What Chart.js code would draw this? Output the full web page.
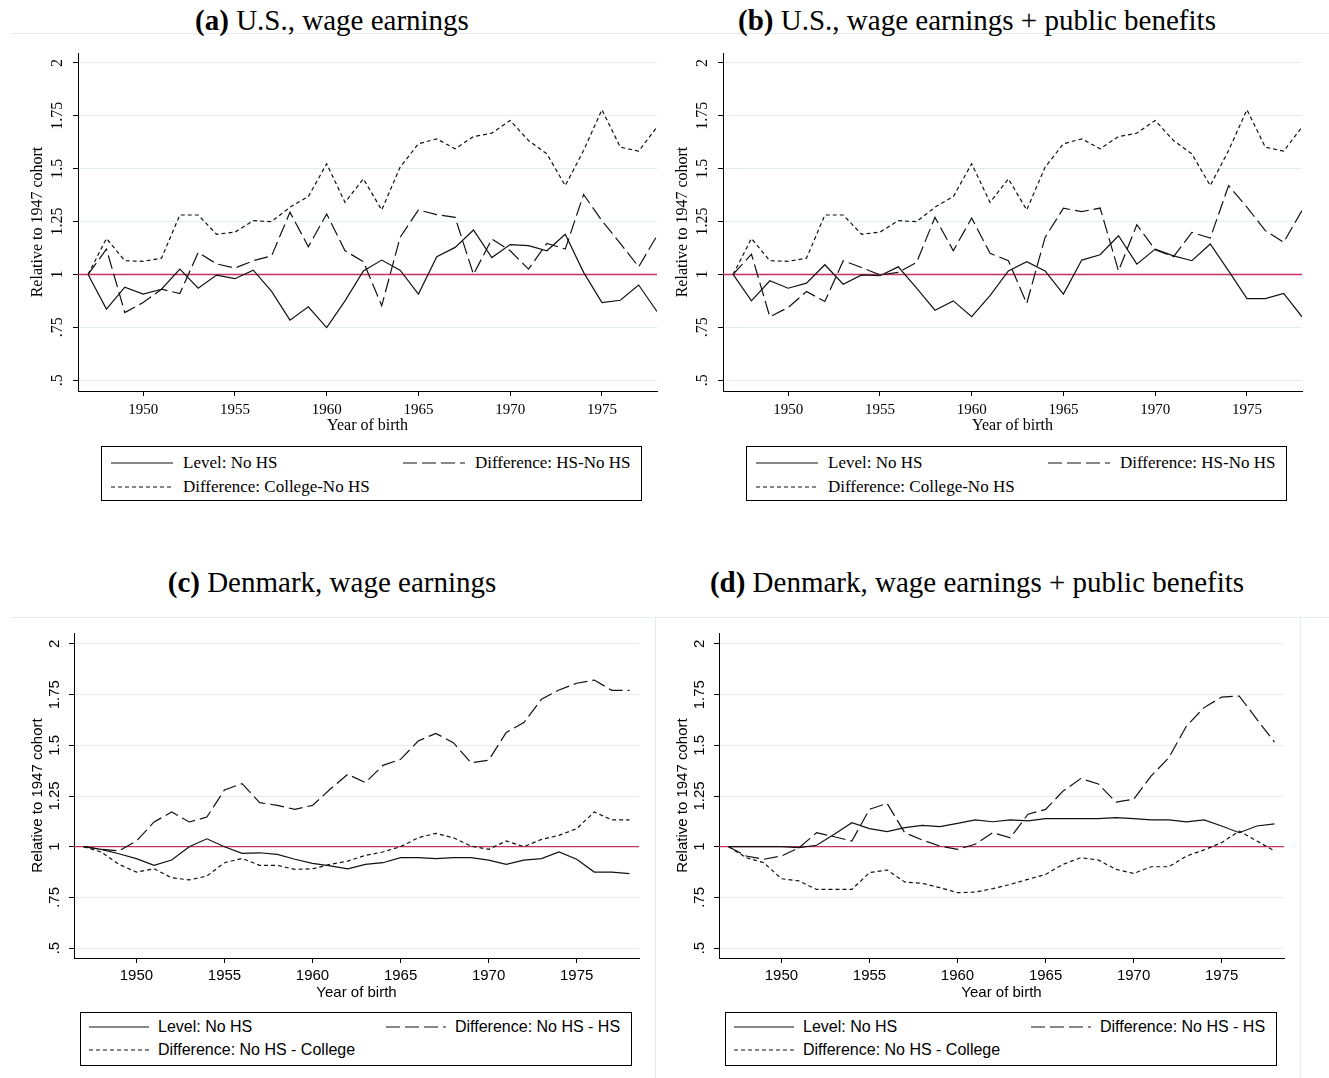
<!DOCTYPE html>
<html>
<head>
<meta charset="utf-8">
<script src="https://cdn.jsdelivr.net/npm/chart.js@4.4.1/dist/chart.umd.min.js"></script>
<style>
  body { margin: 0; background: #fff; width: 1329px; height: 1078px; position: relative; overflow: hidden; }
  .title { position: absolute; transform: translate(-50%, -50%); white-space: nowrap;
           font-family: 'Liberation Serif', serif; font-size: 29px; color: #000; }
  .rule { position: absolute; background: #e6ebee; }
  canvas { position: absolute; }
  .legend { position: absolute; border: 1px solid #000; box-sizing: border-box; background: #fff; }
  .legend .item { position: absolute; display: flex; align-items: center; white-space: nowrap; transform: translateY(-50%); }
  .legend svg { display: block; }
  .serif { font-family: 'Liberation Serif', serif; font-size: 17px; }
  .sans { font-family: 'Liberation Sans', Arial, sans-serif; font-size: 16px; }
</style>
</head>
<body>
<div class="rule" style="left:10px;top:33px;width:1319px;height:1px"></div>
<div class="rule" style="left:10px;top:617px;width:1319px;height:1px"></div>
<div class="rule" style="left:655px;top:617px;width:1px;height:461px"></div>
<div class="rule" style="left:1300px;top:617px;width:1px;height:461px"></div>

<div class="title" style="left:332px;top:20px"><b>(a)</b> U.S., wage earnings</div>
<div class="title" style="left:977px;top:20px"><b>(b)</b> U.S., wage earnings + public benefits</div>
<div class="title" style="left:332px;top:582px"><b>(c)</b> Denmark, wage earnings</div>
<div class="title" style="left:977px;top:582px"><b>(d)</b> Denmark, wage earnings + public benefits</div>

<canvas id="c-a" width="670" height="400" style="left:0;top:40px"></canvas>
<canvas id="c-b" width="670" height="400" style="left:645px;top:40px"></canvas>
<canvas id="c-c" width="660" height="390" style="left:0;top:620px"></canvas>
<canvas id="c-d" width="660" height="390" style="left:645px;top:620px"></canvas>

<script>
// Birth cohorts, all panels
const years = [1947, 1948, 1949, 1950, 1951, 1952, 1953, 1954, 1955, 1956, 1957, 1958, 1959, 1960, 1961, 1962,
               1963, 1964, 1965, 1966, 1967, 1968, 1969, 1970, 1971, 1972, 1973, 1974, 1975, 1976, 1977, 1978];
const xTicks = [1950, 1955, 1960, 1965, 1970, 1975];
const yTicks = [0.5, 0.75, 1, 1.25, 1.5, 1.75, 2];
const yTickLabels = ['.5', '.75', '1', '1.25', '1.5', '1.75', '2'];
const refLevel = 1;

// U.S., wage earnings (relative to 1947 cohort)
const usWageLevel   = [1.0, 0.836, 0.94, 0.907, 0.93, 1.025, 0.935, 0.997, 0.98, 1.02, 0.92, 0.784, 0.847, 0.749, 0.875, 1.017,
                       1.068, 1.02, 0.907, 1.084, 1.128, 1.21, 1.08, 1.141, 1.136, 1.112, 1.19, 1.01, 0.867, 0.878, 0.95, 0.825];
const usWageHS      = [1.0, 1.12, 0.82, 0.867, 0.93, 0.91, 1.104, 1.05, 1.03, 1.065, 1.088, 1.294, 1.131, 1.286, 1.112, 1.06,
                       0.852, 1.175, 1.305, 1.283, 1.27, 1.0, 1.167, 1.112, 1.025, 1.147, 1.12, 1.378, 1.254, 1.147, 1.036, 1.183];
const usWageCollege = [1.0, 1.17, 1.065, 1.062, 1.077, 1.281, 1.281, 1.19, 1.2, 1.254, 1.25, 1.318, 1.368, 1.523, 1.341, 1.452,
                       1.305, 1.507, 1.618, 1.641, 1.594, 1.652, 1.668, 1.728, 1.633, 1.57, 1.42, 1.586, 1.779, 1.602, 1.583, 1.697];

// U.S., wage earnings + public benefits
const usBenLevel    = [1.0, 0.875, 0.97, 0.935, 0.959, 1.046, 0.954, 0.998, 0.994, 1.036, 0.935, 0.831, 0.875, 0.8, 0.9, 1.017,
                       1.06, 1.017, 0.907, 1.068, 1.093, 1.183, 1.049, 1.12, 1.088, 1.065, 1.144, 1.017, 0.886, 0.886, 0.91, 0.8];
const usBenHS       = [1.0, 1.096, 0.8, 0.844, 0.919, 0.872, 1.065, 1.033, 0.998, 1.01, 1.057, 1.27, 1.112, 1.267, 1.1, 1.065,
                       0.863, 1.175, 1.313, 1.297, 1.314, 1.017, 1.235, 1.117, 1.084, 1.199, 1.172, 1.42, 1.318, 1.207, 1.152, 1.302];
const usBenCollege  = [1.0, 1.17, 1.065, 1.062, 1.077, 1.281, 1.281, 1.19, 1.2, 1.254, 1.25, 1.318, 1.368, 1.523, 1.341, 1.452,
                       1.305, 1.507, 1.618, 1.641, 1.594, 1.652, 1.668, 1.728, 1.633, 1.57, 1.42, 1.586, 1.779, 1.602, 1.583, 1.697];

// Denmark, wage earnings
const dkWageLevel   = [1.0, 0.987, 0.965, 0.941, 0.908, 0.934, 1.0, 1.039, 1.0, 0.967, 0.97, 0.962, 0.938, 0.918, 0.905, 0.891,
                       0.913, 0.921, 0.946, 0.946, 0.941, 0.946, 0.946, 0.934, 0.913, 0.934, 0.941, 0.974, 0.938, 0.875, 0.875, 0.867];
const dkWageHS      = [1.0, 0.987, 0.979, 1.028, 1.122, 1.171, 1.122, 1.146, 1.28, 1.311, 1.217, 1.204, 1.184, 1.204, 1.283, 1.357,
                       1.316, 1.401, 1.431, 1.521, 1.559, 1.513, 1.414, 1.426, 1.563, 1.612, 1.727, 1.773, 1.806, 1.822, 1.771, 1.771];
const dkWageCollege = [1.0, 0.974, 0.913, 0.875, 0.891, 0.847, 0.836, 0.855, 0.921, 0.942, 0.908, 0.908, 0.888, 0.891, 0.913, 0.929,
                       0.957, 0.974, 1.0, 1.044, 1.066, 1.044, 1.003, 0.987, 1.028, 1.0, 1.036, 1.056, 1.089, 1.171, 1.132, 1.132];

// Denmark, wage earnings + public benefits
const dkBenLevel    = [1.0, 1.0, 1.0, 1.0, 0.995, 1.007, 1.061, 1.118, 1.089, 1.074, 1.094, 1.105, 1.099, 1.115, 1.132, 1.123,
                       1.132, 1.127, 1.138, 1.138, 1.138, 1.138, 1.143, 1.138, 1.132, 1.132, 1.122, 1.132, 1.102, 1.069, 1.102, 1.113];
const dkBenHS       = [1.0, 0.954, 0.938, 0.954, 0.995, 1.069, 1.049, 1.028, 1.184, 1.214, 1.069, 1.033, 1.003, 0.987, 1.012, 1.069,
                       1.044, 1.16, 1.184, 1.275, 1.336, 1.309, 1.22, 1.234, 1.349, 1.439, 1.595, 1.686, 1.738, 1.743, 1.628, 1.516];
const dkBenCollege  = [1.0, 0.946, 0.921, 0.842, 0.831, 0.789, 0.789, 0.789, 0.872, 0.885, 0.826, 0.819, 0.798, 0.773, 0.776, 0.793,
                       0.814, 0.839, 0.863, 0.913, 0.946, 0.934, 0.888, 0.868, 0.901, 0.901, 0.954, 0.984, 1.02, 1.077, 1.028, 0.979];

const usLabels = ['Level: No HS', 'Difference: HS-No HS', 'Difference: College-No HS'];
const dkLabels = ['Level: No HS', 'Difference: No HS - HS', 'Difference: No HS - College'];

const INK = '#111';
const RED = '#c4335a';
const GRID = '#e4edf0';
const DASHES = [[], [14, 5], [4, 3]];

// Stata-style layouts: top row in Times, bottom row in Arial
const US_STYLE = {
  font: 'Liberation Serif', tickSize: 15, ySize: 16, titleSize: 16,
  area: { top: 13, right: 13, xAxisH: 49, yAxisW: 78 },
  xMin: 1946.45, xMax: 1978, yMin: 0.449, yMax: 2.047,
  lineW: 1.2, refW: 1.5, tickPad: 5, yTickPad: 1, yTitlePad: 28, xTitlePad: 5,
};
const DK_STYLE = {
  font: 'Liberation Sans', tickSize: 15, ySize: 15, titleSize: 15,
  area: { top: 13, right: 21, xAxisH: 52, yAxisW: 74 },
  xMin: 1946.455, xMax: 1978.54, yMin: 0.451, yMax: 2.054,
  lineW: 1.2, refW: 1.2, tickPad: 4, yTickPad: 0, yTitlePad: 29, xTitlePad: 8,
};

function series(values) {
  return years.map((x, i) => ({ x, y: values[i] }));
}

function makePanel(canvasId, st, labels, level, hs, college) {
  const lines = [level, hs, college].map((vals, i) => ({
    label: labels[i],
    data: series(vals),
    borderColor: INK,
    borderWidth: st.lineW,
    borderDash: DASHES[i],
    pointRadius: 0,
    tension: 0,
    fill: false,
  }));
  // horizontal reference at the 1947 level, spanning the full axis
  lines.push({
    label: 'ref',
    data: [{ x: st.xMin, y: refLevel }, { x: st.xMax, y: refLevel }],
    borderColor: RED, borderWidth: st.refW, pointRadius: 0, fill: false,
  });

  return new Chart(document.getElementById(canvasId), {
    type: 'line',
    data: { datasets: lines },
    options: {
      responsive: false, animation: false, devicePixelRatio: 1,
      layout: { padding: { left: 0, top: st.area.top, right: st.area.right, bottom: 0 } },
      plugins: { legend: { display: false }, tooltip: { enabled: false } },
      scales: {
        x: {
          type: 'linear', min: st.xMin, max: st.xMax,
          afterBuildTicks: s => { s.ticks = xTicks.map(v => ({ value: v })); },
          afterFit: s => { s.height = st.area.xAxisH; },
          grid: { drawOnChartArea: false, tickLength: 5, tickColor: '#000', color: '#000' },
          border: { color: '#000', width: 1 },
          ticks: { color: '#000', padding: st.tickPad, maxRotation: 0, font: { family: st.font, size: st.tickSize },
                   callback: v => String(v) },
          title: { display: true, text: 'Year of birth', color: '#000',
                   font: { family: st.font, size: st.titleSize }, padding: { top: 0, bottom: st.xTitlePad } },
        },
        y: {
          min: st.yMin, max: st.yMax,
          afterBuildTicks: s => { s.ticks = yTicks.map(v => ({ value: v })); },
          afterFit: s => { s.width = st.area.yAxisW; },
          grid: { color: GRID, lineWidth: 1, tickLength: 5, tickColor: '#000' },
          border: { color: '#000', width: 1 },
          ticks: { color: '#000', padding: st.yTickPad, minRotation: 90, maxRotation: 90, crossAlign: 'center',
                   font: { family: st.font, size: st.ySize },
                   callback: v => yTickLabels[yTicks.indexOf(v)] },
          title: { display: true, text: 'Relative to 1947 cohort', color: '#000',
                   font: { family: st.font, size: st.titleSize }, padding: { top: st.yTitlePad, bottom: 0 } },
        },
      },
    },
  });
}

// Boxed two-column legend under each panel, built from the chart's own datasets
function makeLegend(chart, box, cls) {
  const el = document.createElement('div');
  el.className = 'legend ' + cls;
  Object.assign(el.style, { left: box.left + 'px', top: box.top + 'px', width: box.w + 'px', height: box.h + 'px' });
  chart.data.datasets.slice(0, 3).forEach((ds, i) => {
    const slot = box.slots[i];
    const item = document.createElement('div');
    item.className = 'item';
    item.style.left = slot.x + 'px';
    item.style.top = slot.y + 'px';
    const dash = (ds.borderDash || []).join(',');
    item.innerHTML =
      `<svg width="${box.sample}" height="4"><line x1="0" y1="2" x2="${box.sample}" y2="2" stroke="${INK}" stroke-width="1.2"` +
      (dash ? ` stroke-dasharray="${dash}"` : '') + `/></svg>` +
      `<span style="margin-left:${box.gap}px">${ds.label}</span>`;
    el.appendChild(item);
  });
  document.body.appendChild(el);
}

const chartA = makePanel('c-a', US_STYLE, usLabels, usWageLevel, usWageHS, usWageCollege);
const chartB = makePanel('c-b', US_STYLE, usLabels, usBenLevel, usBenHS, usBenCollege);
const chartC = makePanel('c-c', DK_STYLE, dkLabels, dkWageLevel, dkWageHS, dkWageCollege);
const chartD = makePanel('c-d', DK_STYLE, dkLabels, dkBenLevel, dkBenHS, dkBenCollege);

const usSlots = [{ x: 9, y: 16 }, { x: 301, y: 16 }, { x: 9, y: 40 }];
const dkSlots = [{ x: 8, y: 14 }, { x: 305, y: 14 }, { x: 8, y: 37 }];
makeLegend(chartA, { left: 101, top: 446, w: 541, h: 55, slots: usSlots, sample: 62, gap: 10 }, 'serif');
makeLegend(chartB, { left: 746, top: 446, w: 541, h: 55, slots: usSlots, sample: 62, gap: 10 }, 'serif');
makeLegend(chartC, { left: 80, top: 1012, w: 552, h: 54, slots: dkSlots, sample: 60, gap: 9 }, 'sans');
makeLegend(chartD, { left: 725, top: 1012, w: 552, h: 54, slots: dkSlots, sample: 60, gap: 9 }, 'sans');
</script>
</body>
</html>
